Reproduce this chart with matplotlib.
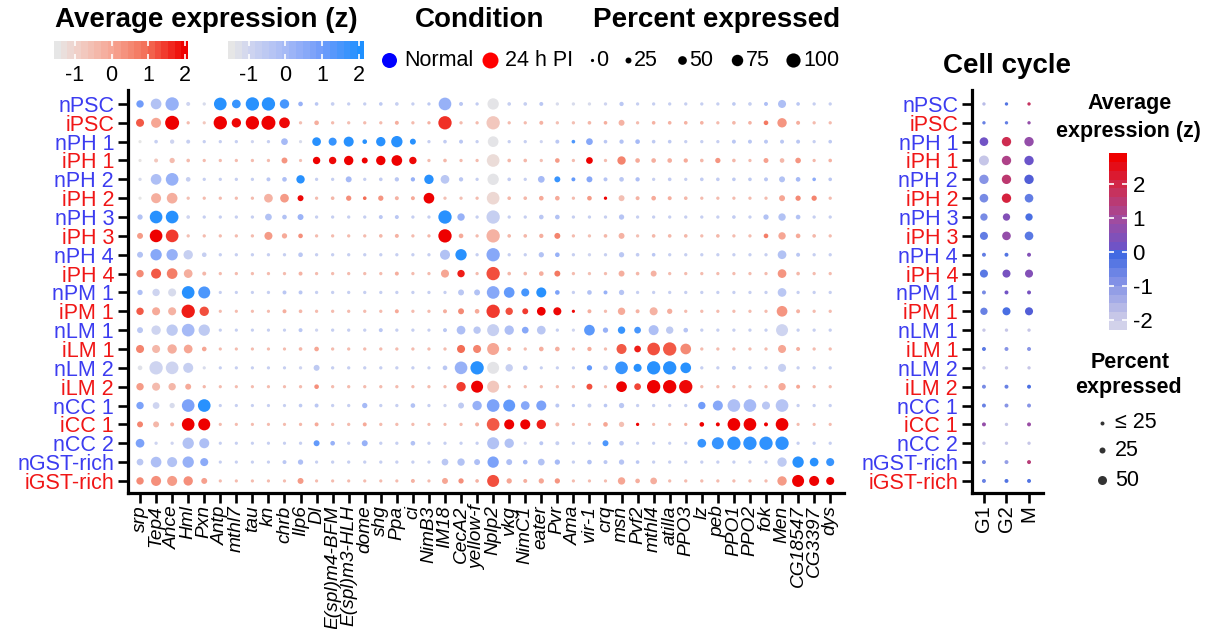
import matplotlib
matplotlib.use('Agg')
import matplotlib.pyplot as plt
from matplotlib import rcParams
from matplotlib.colors import LinearSegmentedColormap, Normalize
from matplotlib.cm import ScalarMappable
import numpy as np

rcParams['font.family'] = ['Liberation Sans', 'DejaVu Sans']
rcParams['axes.unicode_minus'] = False

genes = ['srp', 'Tep4', 'Ance', 'Hml', 'Pxn', 'Antp', 'mthl7', 'tau', 'kn', 'chrb',
         'Ilp6', 'Dl', 'E(spl)m4-BFM', 'E(spl)m3-HLH', 'dome', 'shg', 'Ppa', 'ci',
         'NimB3', 'IM18', 'CecA2', 'yellow-f', 'Nplp2', 'vkg', 'NimC1', 'eater',
         'Pvr', 'Ama', 'vir-1', 'crq', 'msn', 'Pvf2', 'mthl4', 'atilla', 'PPO3',
         'lz', 'peb', 'PPO1', 'PPO2', 'fok', 'Men', 'CG18547', 'CG3397', 'dys']
clusters = ['nPSC', 'iPSC', 'nPH 1', 'iPH 1', 'nPH 2', 'iPH 2', 'nPH 3', 'iPH 3',
            'nPH 4', 'iPH 4', 'nPM 1', 'iPM 1', 'nLM 1', 'iLM 1', 'nLM 2', 'iLM 2',
            'nCC 1', 'iCC 1', 'nCC 2', 'nGST-rich', 'iGST-rich']
phases = ['G1', 'G2', 'M']

# percent of cells expressing each marker (rows follow clusters)
pct = [
    [38, 68, 92, 7, 1, 86, 50, 92, 92, 56, 13, 4, 4, 1, 1, 4, 4, 1, 1, 86, 7, 1, 74, 4, 4, 7, 1, 1, 1, 1, 10, 1, 1, 1, 1, 1, 1, 4, 4, 7, 44, 4, 1, 1],
    [44, 62, 98, 1, 0, 92, 56, 92, 98, 68, 1, 13, 1, 1, 1, 1, 7, 1, 1, 92, 1, 1, 92, 1, 1, 7, 1, 1, 4, 4, 25, 1, 4, 4, 4, 4, 1, 4, 4, 13, 56, 7, 1, 1],
    [0, 4, 10, 7, 1, 1, 1, 0, 1, 32, 0, 50, 44, 62, 13, 56, 74, 25, 1, 4, 7, 1, 68, 1, 1, 0, 7, 4, 32, 4, 10, 13, 4, 4, 1, 1, 1, 7, 7, 7, 7, 7, 1, 4],
    [0, 7, 19, 4, 1, 1, 1, 1, 1, 25, 0, 38, 38, 56, 25, 56, 68, 38, 1, 4, 1, 1, 86, 4, 4, 1, 13, 1, 32, 1, 47, 13, 13, 13, 10, 4, 19, 4, 1, 16, 13, 22, 1, 4],
    [1, 68, 86, 13, 1, 1, 1, 1, 7, 13, 47, 1, 1, 25, 1, 4, 10, 10, 56, 50, 10, 1, 74, 4, 1, 32, 25, 7, 25, 7, 13, 10, 1, 4, 1, 4, 4, 4, 4, 7, 25, 13, 4, 4],
    [0, 62, 68, 1, 1, 1, 1, 1, 50, 50, 25, 1, 4, 19, 4, 19, 7, 7, 68, 1, 1, 1, 86, 4, 4, 13, 13, 1, 13, 1, 25, 7, 13, 7, 4, 1, 1, 1, 1, 1, 25, 19, 19, 1],
    [19, 86, 86, 4, 1, 1, 1, 1, 32, 13, 25, 1, 1, 1, 1, 7, 7, 1, 1, 92, 38, 1, 92, 1, 1, 13, 13, 1, 1, 1, 19, 1, 1, 1, 1, 1, 1, 4, 1, 19, 38, 13, 1, 1],
    [25, 86, 86, 1, 1, 1, 1, 1, 44, 19, 13, 1, 1, 1, 1, 4, 7, 1, 1, 92, 13, 1, 92, 4, 4, 10, 25, 1, 1, 4, 25, 1, 4, 4, 4, 1, 4, 1, 1, 13, 38, 13, 4, 1],
    [25, 74, 74, 56, 13, 1, 1, 1, 1, 1, 13, 1, 1, 1, 1, 1, 1, 1, 1, 62, 74, 1, 92, 1, 1, 19, 13, 1, 1, 1, 19, 4, 4, 1, 1, 1, 1, 1, 1, 1, 50, 7, 1, 1],
    [38, 62, 68, 50, 7, 1, 1, 1, 1, 1, 7, 1, 1, 1, 1, 1, 7, 1, 1, 44, 38, 1, 92, 4, 4, 13, 25, 1, 1, 1, 25, 4, 25, 1, 1, 1, 1, 1, 1, 1, 50, 4, 1, 1],
    [19, 38, 44, 86, 80, 0, 0, 0, 1, 7, 7, 1, 1, 1, 1, 1, 1, 1, 1, 1, 25, 25, 86, 68, 44, 62, 13, 1, 13, 7, 19, 1, 1, 1, 1, 1, 1, 1, 1, 1, 50, 1, 1, 1],
    [38, 44, 44, 92, 56, 0, 0, 0, 0, 7, 4, 1, 1, 1, 1, 1, 7, 1, 1, 7, 25, 13, 92, 38, 25, 50, 44, 0, 7, 1, 38, 7, 44, 19, 1, 1, 1, 1, 1, 1, 68, 7, 1, 1],
    [25, 56, 74, 86, 74, 0, 0, 0, 0, 0, 7, 0, 1, 1, 1, 7, 1, 1, 0, 7, 50, 38, 80, 56, 32, 50, 1, 0, 68, 19, 38, 32, 62, 38, 13, 1, 1, 1, 1, 1, 80, 1, 1, 1],
    [44, 44, 56, 50, 13, 0, 0, 0, 0, 0, 4, 13, 1, 1, 1, 1, 1, 1, 1, 1, 44, 44, 80, 7, 1, 13, 13, 1, 10, 1, 62, 32, 86, 92, 68, 1, 1, 1, 1, 1, 44, 7, 1, 1],
    [13, 92, 86, 62, 0, 0, 0, 0, 0, 0, 1, 25, 1, 1, 1, 1, 1, 1, 0, 13, 86, 92, 80, 38, 13, 0, 0, 0, 19, 13, 86, 44, 92, 92, 68, 1, 1, 7, 1, 1, 44, 1, 1, 1],
    [38, 44, 38, 25, 1, 0, 0, 0, 0, 0, 1, 13, 1, 1, 1, 1, 1, 1, 1, 1, 56, 80, 80, 1, 1, 1, 1, 1, 25, 0, 68, 32, 92, 92, 92, 1, 1, 1, 1, 1, 38, 7, 1, 1],
    [38, 32, 19, 86, 86, 0, 0, 0, 0, 0, 4, 7, 1, 1, 19, 1, 1, 13, 1, 1, 25, 56, 86, 80, 50, 62, 7, 1, 7, 4, 19, 1, 1, 1, 1, 38, 62, 86, 86, 44, 86, 1, 1, 1],
    [25, 25, 7, 86, 80, 0, 0, 0, 0, 0, 1, 7, 1, 1, 7, 1, 1, 1, 0, 0, 1, 7, 86, 62, 62, 56, 7, 0, 1, 13, 19, 1, 0, 0, 1, 13, 7, 86, 86, 7, 86, 0, 0, 0],
    [50, 1, 1, 74, 62, 0, 0, 0, 0, 0, 1, 25, 13, 1, 25, 1, 1, 13, 1, 1, 1, 1, 80, 56, 0, 7, 7, 1, 1, 25, 13, 0, 0, 0, 0, 50, 80, 92, 92, 92, 92, 1, 1, 1],
    [32, 68, 62, 74, 44, 0, 0, 0, 0, 7, 19, 0, 1, 1, 1, 1, 1, 1, 0, 32, 38, 25, 74, 25, 13, 32, 19, 1, 13, 7, 19, 4, 1, 1, 1, 1, 1, 1, 1, 1, 56, 74, 50, 44],
    [38, 62, 62, 56, 25, 0, 0, 0, 0, 0, 25, 0, 0, 0, 0, 0, 0, 7, 0, 25, 19, 4, 80, 19, 7, 19, 19, 0, 0, 0, 38, 13, 32, 1, 1, 1, 1, 1, 1, 1, 56, 80, 62, 44],
]

# scaled average expression (z) for the same grid
zexp = [
    [1.0, -0.3, 0.3, -1.0, -1.2, 2.0, 1.8, 2.0, 2.0, 1.6, 0.3, -0.5, -0.8, -0.8, -0.8, -0.6, -0.8, -0.8, -0.6, 0.3, -0.5, -0.7, -1.5, -0.8, -0.8, -0.5, -1.2, -1.2, -1.2, -1.0, -0.5, -0.8, -0.8, -0.8, -0.8, -0.8, -0.8, -0.6, -0.8, -0.2, -0.2, -0.5, -0.8, -0.8],
    [1.2, 0.0, 2.1, -0.5, -0.8, 2.1, 2.0, 2.1, 2.1, 2.0, -0.6, -0.2, -0.5, -0.6, -0.5, -0.5, -0.2, -0.5, -0.3, 1.6, -0.5, -0.5, -0.8, -0.5, -0.5, -0.3, -0.6, -0.6, -0.4, -0.2, -0.3, -0.5, -0.3, -0.3, -0.3, -0.3, -0.5, -0.4, -0.3, 0.8, 0.3, -0.2, -0.5, -0.5],
    [-1.6, -0.8, -1.0, -0.8, -0.8, -0.8, -0.8, -1.0, -0.8, 0.0, -1.2, 2.0, 1.8, 2.0, 2.0, 2.0, 2.0, 2.0, -0.8, -0.7, -0.5, -0.8, -1.5, -0.8, -0.8, -1.0, -0.5, 1.5, 0.6, -0.5, -0.3, 0.0, -0.6, -0.6, -0.8, -0.8, -0.8, -0.5, -0.5, -0.5, -0.5, -0.5, -0.8, -0.6],
    [-1.5, -0.8, -0.5, -0.5, -0.5, -0.5, -0.5, -0.5, -0.5, 0.3, -0.6, 2.1, 2.0, 2.1, 2.1, 2.1, 2.1, 2.0, -0.5, -0.4, -0.5, -0.5, -1.3, -0.4, -0.4, -0.6, 0.2, -0.5, 2.1, -0.5, 0.6, -0.1, -0.2, -0.2, -0.1, -0.4, 0.3, -0.4, -0.5, 0.1, -0.4, 0.3, -0.4, -0.3],
    [-1.2, -0.2, 0.3, -0.8, -0.8, -0.8, -0.8, -0.8, -0.5, -0.2, 2.0, -0.8, -0.8, 0.0, -0.8, -0.7, -0.5, 0.3, 2.0, -0.5, -0.5, -0.8, -1.5, -0.7, -0.8, 0.0, 1.8, 1.2, 0.6, -0.4, -0.5, -0.2, -0.8, -0.7, -0.8, -0.7, -0.7, -0.6, -0.6, -0.5, -0.3, 0.0, 0.5, -0.5],
    [-1.6, -0.2, -0.2, -0.6, -0.5, -0.5, -0.5, -0.5, -0.3, 0.2, 2.0, -0.5, -0.4, 0.4, 1.0, 0.3, -0.3, -0.1, 2.1, -0.6, -0.6, -0.5, -1.2, -0.4, -0.4, -0.1, -0.1, -0.5, 0.2, 2.1, -0.6, -0.3, -0.1, -0.2, -0.4, -0.5, -0.5, -0.5, -0.5, -0.5, 0.0, 0.5, 0.6, -0.5],
    [-0.3, 2.0, 2.0, -1.0, -0.8, -0.8, -0.8, -0.8, -0.3, -0.3, 0.2, -0.8, -0.8, -0.8, -0.8, -0.5, -0.5, -0.8, -0.8, 2.0, 0.3, -0.8, -0.8, -0.8, -0.8, -0.5, -0.3, -0.8, -0.8, -0.8, -0.4, -0.8, -0.8, -0.8, -0.8, -0.8, -0.8, -0.7, -0.8, -0.3, -0.3, -0.3, -0.8, -0.8],
    [0.2, 2.1, 1.5, -0.6, -0.5, -0.5, -0.5, -0.5, 0.2, -0.1, 0.4, -0.5, -0.5, -0.5, -0.5, -0.4, -0.3, -0.5, -0.4, 2.1, -0.1, -0.5, -0.3, -0.4, -0.4, -0.2, 0.6, -0.5, -0.6, -0.4, -0.3, -0.6, -0.4, -0.4, -0.4, -0.5, -0.4, -0.5, -0.5, 0.7, 0.0, -0.1, -0.4, -0.5],
    [-0.3, 0.6, 0.3, -0.8, -0.8, -0.8, -0.8, -0.8, -0.8, -0.8, -0.5, -0.8, -0.8, -0.8, -0.8, -0.8, -0.8, -0.8, -0.8, -0.3, 2.0, -0.8, 0.6, -0.8, -0.8, -0.3, 0.3, -0.8, -1.0, -0.8, -0.5, -0.7, -0.5, -0.8, -0.8, -0.8, -0.8, -0.8, -0.8, -0.8, -0.3, -0.5, -0.8, -0.8],
    [0.5, 1.2, 0.7, -0.2, -0.4, -0.5, -0.5, -0.5, -0.5, -0.5, -0.3, -0.5, -0.5, -0.5, -0.5, -0.5, -0.2, -0.5, -0.5, 0.0, 1.8, -0.5, 1.3, -0.4, -0.4, -0.2, 0.8, -0.5, -0.6, -0.5, -0.2, -0.4, -0.3, -0.5, -0.5, -0.5, -0.5, -0.5, -0.5, -0.5, 0.3, -0.4, -0.5, -0.5],
    [-0.2, -1.0, -1.2, 2.0, 1.5, -0.8, -0.8, -0.8, -0.8, -0.5, -0.5, -0.8, -0.8, -0.8, -0.8, -0.8, -0.8, -0.8, -0.8, -0.8, -0.5, -0.3, 0.6, 1.2, 1.6, 2.0, 0.8, -0.8, -0.3, 0.3, -0.4, -0.8, -0.8, -0.8, -0.8, -0.8, -0.8, -0.8, -0.8, -0.8, -0.5, -0.8, -0.8, -0.8],
    [1.2, -0.1, -0.3, 1.8, 1.3, -0.5, -0.5, -0.5, -0.5, -0.2, -0.4, -0.5, -0.5, -0.5, -0.5, -0.5, -0.1, -0.5, -0.5, -0.2, 0.5, -0.1, 1.5, 1.3, 1.5, 2.1, 2.0, 2.0, -0.2, -0.5, -0.1, -0.3, -0.3, -0.2, -0.5, -0.5, -0.5, -0.5, -0.5, -0.5, 0.3, -0.3, -0.5, -0.5],
    [-0.5, -1.0, -0.6, 0.0, -0.6, -0.8, -0.8, -0.8, -0.8, -0.8, -0.5, -1.0, -0.8, -0.8, -0.8, -0.5, -0.8, -0.8, -0.8, -0.5, -0.2, -0.5, -0.8, -0.2, 0.6, -0.5, -0.8, -1.0, 1.3, 0.3, 1.8, 1.6, -0.2, -0.6, -0.4, -0.8, -0.8, -0.8, -0.8, -0.8, -1.0, -0.8, -0.8, -0.8],
    [0.6, -0.4, -0.2, 0.0, 0.0, -0.5, -0.5, -0.5, -0.5, -0.5, -0.4, 0.0, -0.5, -0.5, -0.5, -0.5, -0.5, -0.5, -0.5, -0.5, 1.0, 0.6, 0.0, -0.3, -0.5, -0.2, -0.2, -0.5, -0.1, -0.5, 1.2, 1.8, 1.3, 1.2, 0.5, -0.5, -0.5, -0.5, -0.5, -0.5, 0.0, -0.2, -0.5, -0.5],
    [-1.4, -1.0, -1.0, -0.8, -1.2, -0.8, -0.8, -0.8, -0.8, -0.8, -1.0, -0.6, -0.8, -0.8, -0.8, -0.8, -0.8, -0.8, -0.8, -0.5, 0.3, 2.0, -1.5, -0.8, -0.5, -0.8, -0.8, -0.8, 1.2, -0.5, 1.8, 2.0, 2.0, 2.0, 2.0, -0.8, -0.8, -0.6, -0.8, -0.8, -0.8, -0.8, -0.8, -0.8],
    [0.2, -0.5, -0.4, -0.1, -0.4, -0.5, -0.5, -0.5, -0.5, -0.5, -0.5, 0.4, -0.5, -0.5, -0.5, -0.5, -0.5, -0.5, -0.5, -0.5, 1.5, 2.1, -0.8, -0.5, -0.5, -0.5, -0.5, -0.5, 1.3, -0.5, 2.1, 1.4, 2.1, 2.1, 2.0, -0.5, -0.5, -0.5, -0.5, -0.5, -0.1, 0.0, -0.4, -0.5],
    [0.8, -1.0, -1.2, 0.8, 2.0, -0.8, -0.8, -0.8, -0.8, -0.8, -0.6, -0.5, -0.8, -0.8, 0.0, -0.8, -0.8, -0.3, -0.8, -1.0, -0.6, 0.3, 0.8, 1.2, 0.6, 0.8, -0.5, -0.5, -0.8, -0.5, -0.5, -0.8, -0.8, -0.8, -0.8, 1.0, 0.6, -0.2, 0.0, -0.5, -0.4, -0.8, -0.8, -0.8],
    [0.6, -0.4, -0.3, 2.1, 2.1, -0.5, -0.5, -0.5, -0.5, -0.5, -0.4, -0.1, -0.5, -0.5, -0.1, -0.5, -0.5, -0.5, -0.5, -0.5, -0.5, -0.3, 1.2, 2.1, 2.1, 1.8, -0.5, -0.5, -0.5, 0.0, -0.6, 2.1, -0.5, -0.5, -0.3, 2.1, 2.1, 2.1, 2.1, 2.1, 2.1, -0.5, -0.5, -0.5],
    [0.8, -1.0, -1.0, -0.3, -0.2, -0.8, -0.8, -0.8, -0.8, -0.8, -0.8, 1.2, 0.3, -0.8, 0.3, -0.8, -0.8, -0.3, -0.8, -0.8, -0.8, -0.8, -0.3, -0.3, -1.0, -0.5, -0.8, -0.8, -0.8, 1.5, -0.5, -0.8, -0.8, -0.8, -0.8, 1.8, 1.8, 1.9, 1.9, 1.9, 1.9, -0.8, -0.8, -0.8],
    [-0.5, -0.2, -0.3, 0.3, 0.5, -0.8, -0.8, -0.8, -0.8, -0.5, -0.2, -0.8, -0.8, -0.8, -0.8, -0.8, -0.8, -0.8, -0.8, -0.5, -0.3, -0.2, 0.8, -0.2, 0.0, -0.3, 0.0, -0.8, -0.3, -0.5, -0.4, -0.5, -0.8, -0.8, -0.8, -0.8, -0.8, -0.8, -0.8, -0.8, -0.6, 2.0, 2.0, 1.8],
    [0.5, 0.4, 0.2, 0.4, 0.1, -0.5, -0.5, -0.5, -0.5, -0.5, 0.2, -0.5, -0.5, -0.5, -0.5, -0.5, -0.5, -0.3, -0.5, 0.0, 0.4, -0.3, 1.3, 0.0, -0.2, 0.0, 0.3, -0.5, -0.5, -0.5, 0.0, -0.2, -0.2, -0.5, -0.5, -0.5, -0.5, -0.5, -0.5, -0.5, 0.2, 2.1, 2.1, 2.1],
]

# cell-cycle phase scores (G1, G2, M)
cc_pct = [[3, 3, 3], [3, 3, 3], [47, 53, 53], [58, 53, 53], [53, 53, 53], [47, 53, 47],
          [36, 36, 36], [42, 47, 47], [8, 8, 8], [42, 42, 42], [8, 8, 8], [36, 42, 42],
          [3, 3, 3], [8, 8, 8], [3, 3, 3], [8, 8, 8], [8, 8, 8], [8, 3, 8], [3, 3, 3],
          [8, 8, 8], [8, 8, 8]]
cc_z = [[-1.8, -0.3, 1.8], [-0.6, -0.5, 0.8], [0.2, 2.0, 0.8], [-2.0, 1.3, 0.1],
        [-1.0, 1.6, 0.0], [-0.8, 2.2, -0.5], [-0.8, 0.5, -0.2], [-0.5, 0.8, -0.4],
        [-0.5, -0.3, 0.5], [-0.4, 0.3, 0.5], [-0.8, 0.2, 0.3], [-0.6, -0.2, 0.0],
        [-2.0, -2.0, -2.0], [-0.4, -1.0, -1.0], [-2.0, -2.0, -2.0], [-0.8, -0.6, -0.2],
        [-0.6, -1.0, -1.0], [0.8, -2.0, 0.9], [-2.0, -2.0, -2.0], [-0.8, -1.2, 1.5],
        [-0.6, -0.3, -0.3]]

pct_legend = [0, 25, 50, 75, 100]
cc_legend = [('\u2264 25', 8), ('25', 25), ('50', 50)]

W, H = 1208, 629
BLUE_TXT = '#3c3cf0'
RED_TXT = '#f01616'


def ramp(stops, lo, hi):
    pos = [(v - lo) / (hi - lo) for v, _ in stops]
    cols = [tuple(c / 255 for c in rgb) for _, rgb in stops]
    return LinearSegmentedColormap.from_list('r', list(zip(pos, cols)))


red_lo, red_hi = -1.57, 2.08
blue_lo, blue_hi = -1.56, 2.14
cc_lo, cc_hi = -2.29, 2.92
red_cmap = ramp([(-1.57, (230, 230, 230)), (-1.0, (241, 208, 200)), (0.0, (246, 166, 148)),
                 (1.0, (243, 110, 86)), (2.08, (238, 0, 0))], red_lo, red_hi)
blue_cmap = ramp([(-1.56, (230, 230, 230)), (-1.0, (206, 212, 240)), (0.0, (166, 186, 246)),
                  (1.0, (114, 156, 250)), (2.14, (30, 144, 255))], blue_lo, blue_hi)
cc_cmap = ramp([(-2.29, (210, 210, 234)), (-2.0, (198, 198, 232)), (-1.0, (135, 148, 230)),
                (-0.05, (62, 104, 226)), (0.05, (104, 84, 204)), (1.0, (160, 76, 160)),
                (2.0, (206, 44, 80)), (2.92, (238, 0, 0))], cc_lo, cc_hi)


def box(x0, y0, x1, y1):
    return [x0 / W, 1 - y1 / H, (x1 - x0) / W, (y1 - y0) / H]


def area(d_px):
    return (d_px * 0.72) ** 2


def style_axes(a):
    for s in ['top', 'right']:
        a.spines[s].set_visible(False)
    for s in ['left', 'bottom']:
        a.spines[s].set_linewidth(2.3)
    a.tick_params(length=7, width=1.9, color='black')
    a.tick_params(axis='y', labelsize=15.5, pad=3)


fig = plt.figure(figsize=(W / 100, H / 100), dpi=100)

# overlay in pixel units for titles and legends
lay = fig.add_axes([0, 0, 1, 1])
lay.set_xlim(0, W)
lay.set_ylim(H, 0)
lay.axis('off')

# main dot plot
ax = fig.add_axes(box(128, 90, 844, 493))
ncol = len(genes)
for r, name in enumerate(clusters):
    p = np.array(pct[r], dtype=float)
    z = np.array(zexp[r])
    if name.startswith('n'):
        cols = blue_cmap(Normalize(blue_lo, blue_hi, clip=True)(z))
    else:
        cols = red_cmap(Normalize(red_lo, red_hi, clip=True)(z))
    ax.scatter(np.arange(ncol), np.full(ncol, r), s=area(3.2 + 0.11 * p),
               c=cols, linewidths=0, zorder=3)
ax.set_xlim(-0.75, 43.86)
ax.set_ylim(20.64, -0.74)
ax.set_xticks(range(ncol))
ax.set_xticklabels(genes, rotation=90, fontsize=13.8, style='italic')
ax.set_yticks(range(len(clusters)))
ax.set_yticklabels(clusters)
style_axes(ax)
ax.tick_params(axis='x', pad=2)
for lab, name in zip(ax.get_yticklabels(), clusters):
    lab.set_color(BLUE_TXT if name.startswith('n') else RED_TXT)

# cell cycle panel
bx = fig.add_axes(box(972, 90, 1043, 493))
for r in range(len(clusters)):
    p = np.array(cc_pct[r], dtype=float)
    cols = cc_cmap(Normalize(cc_lo, cc_hi, clip=True)(np.array(cc_z[r])))
    bx.scatter(np.arange(3), np.full(3, r), s=area(3 + 0.12 * p), c=cols,
               linewidths=0, zorder=3)
bx.set_xlim(-0.53, 2.62)
bx.set_ylim(20.64, -0.74)
bx.set_xticks(range(3))
bx.set_xticklabels(phases, rotation=90, fontsize=14.5)
bx.set_yticks(range(len(clusters)))
bx.set_yticklabels(clusters)
style_axes(bx)
bx.tick_params(axis='x', pad=2)
for lab, name in zip(bx.get_yticklabels(), clusters):
    lab.set_color(BLUE_TXT if name.startswith('n') else RED_TXT)

# titles
bold = dict(fontsize=20, fontweight='bold', va='center')
lay.text(55, 20, 'Average expression (z)', ha='left', **bold)
lay.text(480, 20, 'Condition', ha='center', **bold)
lay.text(717, 20, 'Percent expressed', ha='center', **bold)
lay.text(1007, 66, 'Cell cycle', ha='center', **bold)


def colorbar(rect, cmap, lo, hi, ticks, orient):
    cax = fig.add_axes(rect)
    cb = fig.colorbar(ScalarMappable(Normalize(lo, hi), cmap.resampled(20)),
                      cax=cax, orientation=orient)
    cb.outline.set_visible(False)
    cb.set_ticks(ticks)
    cb.set_ticklabels([str(t) for t in ticks])
    if orient == 'horizontal':
        cax.tick_params(axis='x', top=True, bottom=True, direction='in', color='white',
                        length=3.5, width=1.2, labelsize=15.5, pad=4)
    else:
        cax.tick_params(axis='y', left=True, right=True, direction='in', color='white',
                        length=3.5, width=1.2, labelsize=16, pad=4)
    return cb


colorbar(box(54, 41, 188, 59), red_cmap, red_lo, red_hi, [-1, 0, 1, 2], 'horizontal')
colorbar(box(228, 41, 364, 59), blue_cmap, blue_lo, blue_hi, [-1, 0, 1, 2], 'horizontal')
colorbar(box(1109, 153, 1127, 330), cc_cmap, cc_lo, cc_hi, [-2, -1, 0, 1, 2], 'vertical')

# condition legend
lay.scatter([389], [60], s=area(15), color='#0000ff', linewidths=0)
lay.text(404, 60, 'Normal', fontsize=15.5, va='center')
lay.scatter([490], [60], s=area(16), color='#ff0000', linewidths=0)
lay.text(505, 60, '24 h PI', fontsize=15.5, va='center')

# percent legend for the main panel
leg_x = [592, 628, 682, 737, 793]
for v, x in zip(pct_legend, leg_x):
    d = 3.2 + 0.11 * v
    lay.scatter([x], [60], s=area(d), color='black', linewidths=0)
    lay.text(x + d / 2 + 3, 60, str(v), fontsize=15.5, va='center')

# legends for the cell cycle panel
sub = dict(fontsize=15.5, fontweight='bold', ha='center', va='center')
lay.text(1130, 104, 'Average', **sub)
lay.text(1128, 131, 'expression (z)', **sub)
lay.text(1130, 362, 'Percent', **sub)
lay.text(1128, 388, 'expressed', **sub)
for (lab, v), y in zip(cc_legend, [423, 450, 480]):
    lay.scatter([1102], [y], s=area(3 + 0.12 * v), color='#333333', linewidths=0)
    lay.text(1115, y, lab, fontsize=15.5, va='center')

fig.savefig('out.png', dpi=100)
